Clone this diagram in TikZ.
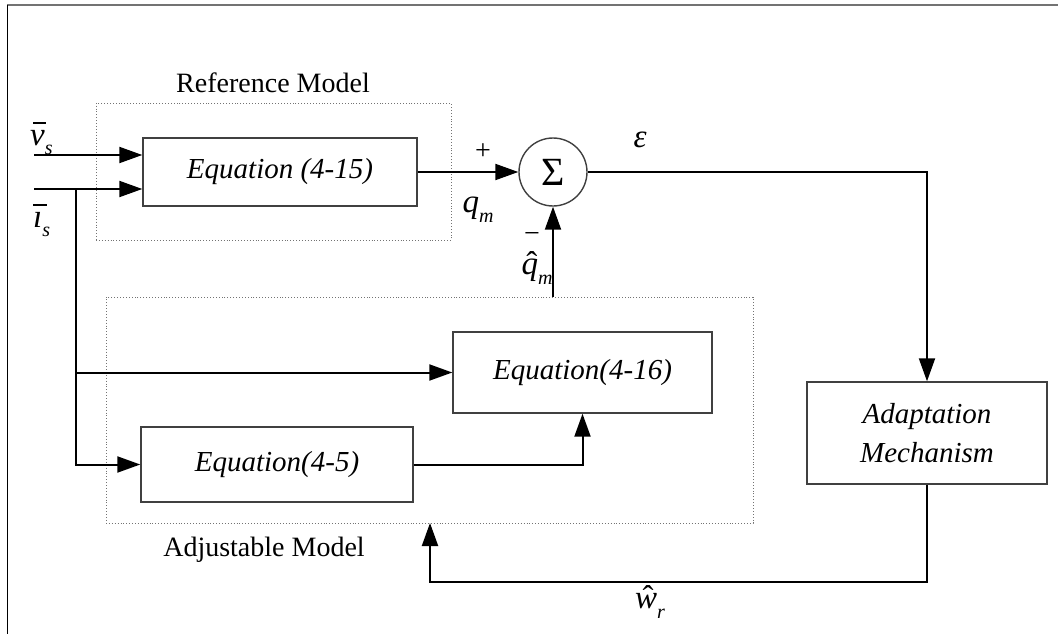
\documentclass[tikz,border=0pt]{standalone}
\usepackage{fontspec}
\setmainfont{Liberation Serif}
\usetikzlibrary{arrows.meta}
\newcommand{\sbx}[1]{\raisebox{-0.3em}{\fontsize{20}{20}\selectfont\itshape #1}}
\newcommand{\ovr}[2]{\ooalign{#2\cr\hidewidth\kern0.12em{\upshape\char"#1}\hidewidth\cr}}
\newcommand{\barred}[1]{\ooalign{#1\cr\hidewidth\kern0.14em\raisebox{0.64em}{\rule{0.4em}{1.4pt}}\hidewidth\cr}}
\begin{document}
\begin{tikzpicture}[x=1pt,y=-1pt,
 blk/.style={draw=black!75,line width=1.4pt,font=\fontsize{29}{32}\selectfont\itshape,align=center,inner sep=0pt},
 grp/.style={draw=black!55,dotted,line width=0.9pt,inner sep=0pt},
 arr/.style={line width=2pt,-{Triangle[length=23pt,width=16pt]}},
 lbl/.style={font=\fontsize{28}{32}\selectfont,inner sep=0pt},
 sgn/.style={font=\fontsize{28}{28}\selectfont,inner sep=0pt},
 mlbl/.style={font=\fontsize{33}{34}\selectfont\itshape,inner sep=0pt}]
\useasboundingbox (0,0) rectangle (1058,634);
\draw[black!55,line width=1.6pt] (7,5) -- (1058,5);
\draw[line width=1pt] (7,5) -- (7,634);
% groups
\node[grp,minimum width=355pt,minimum height=137pt] (ref) at (273.5,171.5) {};
\node[grp,minimum width=647pt,minimum height=226pt] (adj) at (429.5,410) {};
% blocks
\node[blk,minimum width=274pt,minimum height=68pt] (eqa) at (280,172) {Equation (4-15)};
\node[draw=black!75,line width=1.4pt,circle,minimum size=68pt,inner sep=0pt,font=\fontsize{40}{40}\selectfont] (sum) at (553,172) {Σ};
\node[blk,minimum width=259pt,minimum height=81pt] (eqb) at (582.5,372.5) {Equation(4-16)};
\node[blk,minimum width=272pt,minimum height=75pt] (eqc) at (277,464.5) {Equation(4-5)};
\node[blk,minimum width=240pt,minimum height=102pt,font=\fontsize{29}{39}\selectfont\itshape] (ada) at (927,433) {Adaptation\\Mechanism};
% coordinates
\coordinate (vin) at (34,155);
\coordinate (iin) at (34,189);
\coordinate (br) at (76,189);
\coordinate (qh) at (553,297);
\coordinate (fb) at (430,523);
% connectors
\draw[arr] (vin) -- (vin -| eqa.west);
\draw[arr] (iin) -- (iin -| eqa.west);
\draw[arr] (br) |- (eqc.west);
\draw[arr] (br |- eqb.west) -- (eqb.west);
\draw[arr] (eqc.east) -| (eqb.south);
\draw[arr] (eqa.east) -- (sum.west);
\draw[arr] (sum.east) -| (ada.north);
\draw[arr] (qh) -- (sum.south);
\draw[arr] (ada.south) -- ++(0,97) -| (fb);
% labels
\node[lbl] (refl) at (273,83) {Reference Model};
\node[lbl] (adjl) at (264,550) {Adjustable Model};
\node[mlbl,anchor=base west] (vs) at (30,145) {\barred{v}\sbx{s}};
\node[mlbl,anchor=base west] (is) at (33,227) {\barred{ı}\sbx{s}};
\node[sgn] (plus) at (483,152) {+};
\node[sgn] (minus) at (532,238) {−};
\node[mlbl] (qm) at (478,210) {q\sbx{m}};
\node[mlbl] (eps) at (640,140) {ε};
\node[mlbl] (qhm) at (537,272) {\ovr{02C6}{q}\sbx{m}};
\node[mlbl] (wr) at (650,606) {\ovr{02C6}{w}\sbx{r}};
\end{tikzpicture}
\end{document}
